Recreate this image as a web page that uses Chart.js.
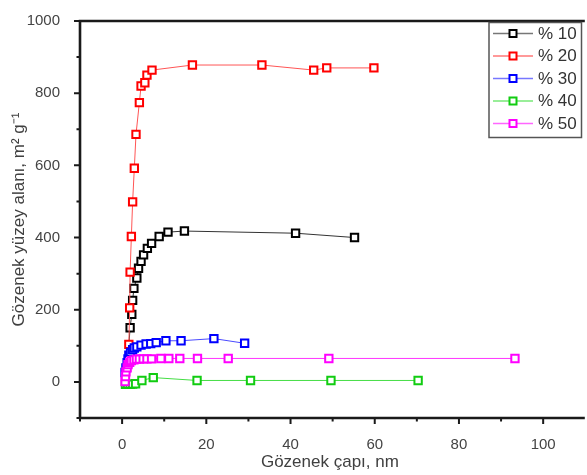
<!DOCTYPE html>
<html><head><meta charset="utf-8">
<script src="https://cdn.jsdelivr.net/npm/chart.js@4.4.1/dist/chart.umd.min.js"></script>
<style>html,body{margin:0;padding:0;background:#fff;overflow:hidden}canvas{display:block}</style>
</head><body>
<canvas id="c" width="587" height="475"></canvas>
<script>
// ---- data ----
const seriesLabels = ['% 10', '% 20', '% 30', '% 40', '% 50'];

const x10 = [1.3, 1.9, 2.3, 2.5, 2.8, 3.5, 3.9, 4.5, 5.1, 6.0, 7.0, 8.8, 10.9, 14.8, 41.2, 55.2];
const y10 = [52, 150, 187, 226, 259, 288, 315, 334, 352, 370, 384, 403, 415, 418, 412, 400];

const x20 = [1.6, 1.8, 1.9, 2.2, 2.5, 2.9, 3.3, 4.1, 4.5, 5.4, 5.9, 7.1, 16.7, 33.2, 45.5, 48.6, 59.8];
const y20 = [104, 205, 304, 403, 499, 592, 686, 774, 820, 829, 850, 864, 878, 878, 864, 870, 870];

const x30 = [0.7, 0.9, 1.2, 1.4, 1.6, 2.0, 2.5, 2.9, 3.5, 4.5, 5.7, 6.8, 8.1, 10.4, 14.0, 21.8, 29.1];
const y30 = [26, 39, 53, 64, 74, 82, 89, 94, 97, 102, 105, 106, 109, 114, 114, 120, 107];

const x40 = [0.8, 1.3, 1.9, 2.5, 3.2, 4.7, 7.4, 17.8, 30.5, 49.6, 70.3];
const y40 = [-7, -7, -7, -6, -5, 4, 12, 4, 4, 4, 4];

const x50 = [0.7, 0.8, 0.9, 1.2, 1.4, 1.8, 2.2, 2.8, 3.4, 4.1, 5.0, 5.9, 7.0, 9.2, 11.1, 13.7, 17.9, 25.2, 49.1, 93.3];
const y50 = [1, 15, 28, 39, 48, 54, 59, 61, 63, 63, 64, 64, 64, 65, 65, 65, 65, 65, 65, 65];

const xTickValues = [0, 20, 40, 60, 80, 100];
const yTickValues = [0, 200, 400, 600, 800, 1000];
const xMinorValues = [-10, 10, 30, 50, 70, 90];
const yMinorValues = [-100, 100, 300, 500, 700, 900];

const xTitle = 'Gözenek çapı, nm';
const yTitle = 'Gözenek yüzey alanı, m² g⁻¹';

// ---- styles ----
const markerColors = ['#000000', '#ff0000', '#0000ff', '#11cc11', '#ff00ff'];
const lineColors = ['#333333', '#ff5555', '#4a4aff', '#44dd44', '#ff33ff'];
const legendLineColors = ['#777777', '#ff7777', '#7777ff', '#77e877', '#ff66ff'];

const xs = [x10, x20, x30, x40, x50];
const ys = [y10, y20, y30, y40, y50];

const datasets = seriesLabels.map((lab, i) => ({
  label: lab,
  data: xs[i].map((v, k) => ({x: v, y: ys[i][k]})),
  borderColor: lineColors[i],
  borderWidth: 1,
  pointStyle: 'rect',
  pointRadius: 5.2,
  pointBorderWidth: 2,
  pointBorderColor: markerColors[i],
  pointBackgroundColor: '#ffffff',
  tension: 0,
  order: 5 - i,
  clip: false
}));

const axesPlugin = {
  id: 'axesPlugin',
  afterDatasetsDraw(chart) {
    const {ctx, chartArea: a, scales: {x, y}} = chart;
    ctx.save();
    ctx.strokeStyle = '#1a1a1a';
    ctx.lineCap = 'butt';
    // ticks
    ctx.lineWidth = 2;
    ctx.beginPath();
    xTickValues.forEach(v => { const p = x.getPixelForValue(v); ctx.moveTo(p, a.bottom); ctx.lineTo(p, a.bottom + 6); });
    xMinorValues.forEach(v => { const p = x.getPixelForValue(v); ctx.moveTo(p, a.bottom); ctx.lineTo(p, a.bottom + 3.5); });
    yTickValues.forEach(v => { const p = y.getPixelForValue(v); ctx.moveTo(a.left, p); ctx.lineTo(a.left - 6, p); });
    yMinorValues.forEach(v => { const p = y.getPixelForValue(v); ctx.moveTo(a.left, p); ctx.lineTo(a.left - 3.5, p); });
    ctx.stroke();
    // axis lines
    ctx.lineWidth = 2.6;
    ctx.beginPath();
    ctx.moveTo(a.left - 1.3, a.top); ctx.lineTo(a.right + 5, a.top);
    ctx.moveTo(a.left, a.top); ctx.lineTo(a.left, a.bottom);
    ctx.moveTo(a.left - 1.3, a.bottom); ctx.lineTo(a.right + 5, a.bottom);
    ctx.stroke();
    ctx.restore();
  }
};

const legendPlugin = {
  id: 'legendPlugin',
  afterDraw(chart) {
    const ctx = chart.ctx;
    ctx.save();
    const bx = 489, by = 22.5, bw = 92.5, bh = 115;
    ctx.fillStyle = '#ffffff';
    ctx.fillRect(bx, by, bw, bh);
    ctx.strokeStyle = '#555555';
    ctx.lineWidth = 1.5;
    ctx.strokeRect(bx, by, bw, bh);
    const rowY = [33.5, 56, 78.5, 101, 123.5];
    seriesLabels.forEach((lab, i) => {
      const yy = rowY[i];
      ctx.strokeStyle = legendLineColors[i];
      ctx.lineWidth = 1.5;
      ctx.beginPath(); ctx.moveTo(493, yy); ctx.lineTo(533, yy); ctx.stroke();
      ctx.fillStyle = '#ffffff';
      ctx.fillRect(509.5, yy - 3.5, 7, 7);
      ctx.strokeStyle = markerColors[i];
      ctx.lineWidth = 2;
      ctx.strokeRect(509.5, yy - 3.5, 7, 7);
      ctx.fillStyle = '#333333';
      ctx.font = '17px "Liberation Sans", Arial, sans-serif';
      ctx.textBaseline = 'middle';
      ctx.textAlign = 'left';
      ctx.fillText(lab, 538, yy + 0.5);
    });
    ctx.restore();
  }
};

new Chart(document.getElementById('c'), {
  type: 'line',
  data: {datasets},
  options: {
    responsive: false,
    animation: false,
    devicePixelRatio: 1,
    events: [],
    layout: {padding: {top: 18, left: 0, right: 0, bottom: 0}},
    plugins: {legend: {display: false}, tooltip: {enabled: false}},
    scales: {
      x: {
        type: 'linear',
        min: -10,
        max: 108.7,
        grid: {display: false},
        border: {display: false},
        afterBuildTicks: s => { s.ticks = xTickValues.map(v => ({value: v})); },
        afterFit: s => { s.height = 57; },
        ticks: {
          padding: 10,
          color: '#444444',
          font: {family: '"Liberation Sans", Arial, sans-serif', size: 15},
          maxRotation: 0,
          callback: v => String(v)
        },
        title: {
          display: true,
          text: xTitle,
          color: '#404040',
          font: {family: '"Liberation Sans", Arial, sans-serif', size: 17, lineHeight: 1.2},
          padding: {top: 0, bottom: 2}
        }
      },
      y: {
        type: 'linear',
        min: -100,
        max: 1000,
        grid: {display: false},
        border: {display: false},
        afterBuildTicks: s => { s.ticks = yTickValues.map(v => ({value: v})); },
        afterFit: s => { s.width = 80; },
        ticks: {
          padding: 12,
          color: '#444444',
          font: {family: '"Liberation Sans", Arial, sans-serif', size: 15},
          callback: v => String(v)
        },
        title: {
          display: true,
          text: yTitle,
          color: '#404040',
          font: {family: '"Liberation Sans", Arial, sans-serif', size: 17, lineHeight: 1.2},
          padding: {top: 9, bottom: 0}
        }
      }
    }
  },
  plugins: [axesPlugin, legendPlugin]
});
</script>
</body></html>
